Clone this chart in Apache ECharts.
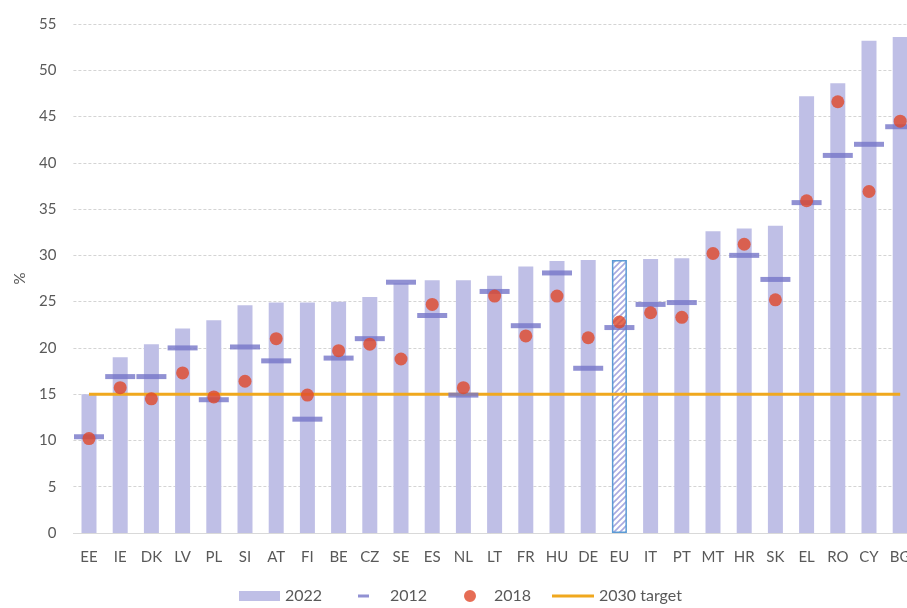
<!DOCTYPE html>
<html>
<head>
<meta charset="utf-8">
<script src="https://cdn.jsdelivr.net/npm/echarts@6/dist/echarts.min.js"></script>
<style>
  html, body { margin: 0; padding: 0; background: #fff; }
  #main { width: 907px; height: 608px; }
</style>
</head>
<body>
<div id="main"></div>
<script>
// 国家代码
const categories = ['EE', 'IE', 'DK', 'LV', 'PL', 'SI', 'AT', 'FI', 'BE', 'CZ', 'SE', 'ES', 'NL', 'LT',
  'FR', 'HU', 'DE', 'EU', 'IT', 'PT', 'MT', 'HR', 'SK', 'EL', 'RO', 'CY', 'BG'];
const v2022 = [15.0, 19.0, 20.4, 22.1, 23.0, 24.6, 24.9, 24.9, 25.0, 25.5, 27.0, 27.3, 27.3, 27.8,
  28.8, 29.4, 29.5, 29.5, 29.6, 29.7, 32.6, 32.9, 33.2, 47.2, 48.6, 53.2, 53.6];
const v2012 = [10.4, 16.9, 16.9, 20.0, 14.4, 20.1, 18.6, 12.3, 18.9, 21.0, 27.1, 23.5, 14.9, 26.1,
  22.4, 28.1, 17.8, 22.2, 24.7, 24.9, null, 30.0, 27.4, 35.7, 40.8, 42.0, 43.9];
const v2018 = [10.2, 15.7, 14.5, 17.3, 14.7, 16.4, 21.0, 14.9, 19.7, 20.4, 18.8, 24.7, 15.7, 25.6,
  21.3, 25.6, 21.1, 22.8, 23.8, 23.3, 30.2, 31.2, 25.2, 35.9, 46.6, 36.9, 44.5];
const target = categories.map(() => 15);

// EU 柱子用斜线填充
const hatch = document.createElement('canvas');
hatch.width = 6; hatch.height = 6;
const ctx = hatch.getContext('2d');
ctx.fillStyle = '#fff';
ctx.fillRect(0, 0, 6, 6);
ctx.strokeStyle = '#a9a9e0';
ctx.lineWidth = 1.6;
ctx.beginPath();
ctx.moveTo(0, 6); ctx.lineTo(6, 0);
ctx.moveTo(-3, 3); ctx.lineTo(3, -3);
ctx.moveTo(3, 9); ctx.lineTo(9, 3);
ctx.stroke();

const barData = categories.map((c, i) => c === 'EU'
  ? { value: v2022[i], itemStyle: { color: { image: hatch, repeat: 'repeat' }, borderColor: '#5b9bd5', borderWidth: 1.5 } }
  : v2022[i]);

const txt = '#595959';
const font = 'Lato';
const legendBase = { top: 587, padding: 0, textStyle: { color: txt, fontSize: 16, fontFamily: font, lineHeight: 18 }, selectedMode: false };

// 图例图标：右边留空白（零面积子路径撑开包围盒）
const dashIcon = 'path://M0,0h11v3h-11zM27,0h0v0z';
const dotIcon = 'path://M6,0A6,6,0,1,1,6,12A6,6,0,1,1,6,0zM25,0h0v0z';

const chart = echarts.init(document.getElementById('main'));
chart.setOption({
  animation: false,
  // 右侧被裁掉，网格比画布宽
  grid: { left: 73.4, width: 842.4, top: 24, bottom: 75, outerBoundsMode: 'none' },
  legend: [
    Object.assign({ left: 239, data: [{ name: '2022', icon: 'rect' }], itemWidth: 41, itemHeight: 10 }, legendBase),
    Object.assign({ left: 358, data: [{ name: '2012', icon: dashIcon }], itemWidth: 27, itemHeight: 3 }, legendBase),
    Object.assign({ left: 464, data: [{ name: '2018', icon: dotIcon }], itemWidth: 25, itemHeight: 12 }, legendBase),
    Object.assign({ left: 552, data: [{ name: '2030 target', icon: 'rect' }], itemWidth: 42, itemHeight: 3 }, legendBase)
  ],
  xAxis: {
    type: 'category',
    data: categories,
    axisLine: { lineStyle: { color: '#d9d9d9', width: 1 } },
    axisTick: { show: false },
    axisLabel: { color: txt, fontSize: 15, fontFamily: font, margin: 17, interval: 0 }
  },
  yAxis: {
    type: 'value',
    min: 0, max: 55, interval: 5,
    name: '%',
    nameLocation: 'middle',
    nameGap: 46,
    nameTextStyle: { color: txt, fontSize: 15, fontFamily: font },
    axisLine: { show: false },
    axisTick: { show: false },
    axisLabel: { color: txt, fontSize: 15, fontFamily: font, margin: 17 },
    splitLine: { lineStyle: { color: '#d4d4d4', type: [3, 2] } }
  },
  series: [
    { name: '2022', type: 'bar', data: barData, barWidth: 15, itemStyle: { color: '#bfbfe6' }, z: 1 },
    { name: '2030 target', type: 'line', data: target, showSymbol: false, symbol: 'none',
      lineStyle: { color: '#f0a81e', width: 3 }, itemStyle: { color: '#f0a81e' }, z: 2 },
    { name: '2012', type: 'scatter', data: v2012, symbol: 'rect', symbolSize: [30, 5],
      itemStyle: { color: '#7575c8' }, z: 3 },
    { name: '2018', type: 'scatter', data: v2018, symbol: 'circle', symbolSize: 13,
      itemStyle: { color: '#e0482a' }, z: 4 }
  ]
});
</script>
</body>
</html>
